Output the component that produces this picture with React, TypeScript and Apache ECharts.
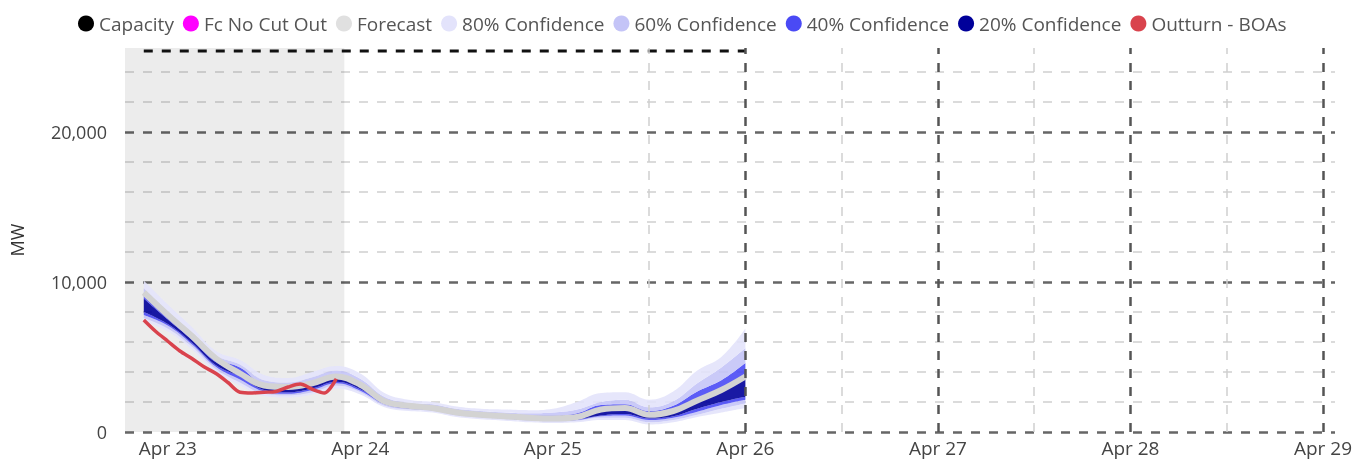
import React, { useEffect, useRef } from 'react';
import * as echarts from 'echarts';

// Time in hours from Apr 23 00:00
const hours = [-3, 0, 3, 6, 9, 12, 15, 18, 21, 24, 27, 30, 33, 36, 39, 42, 45, 48, 51, 54, 57, 60, 63, 66, 69, 72];
const forecast = [9300, 7800, 6400, 4900, 3900, 3100, 3000, 3250, 3700, 3150, 2050, 1750, 1600, 1300, 1150, 1050, 950, 900, 1000, 1500, 1600, 1150, 1400, 2100, 2800, 3700];
const lo80 = [7400, 6700, 5500, 4000, 3100, 2400, 2300, 2500, 2900, 2500, 1650, 1400, 1300, 1000, 850, 750, 650, 600, 650, 800, 800, 500, 650, 1000, 1300, 1600];
const lo60 = [7600, 6900, 5700, 4200, 3300, 2550, 2450, 2650, 3100, 2650, 1750, 1500, 1400, 1100, 950, 850, 750, 700, 750, 950, 950, 650, 800, 1150, 1550, 1900];
const lo40 = [7800, 7100, 5850, 4350, 3500, 2700, 2550, 2800, 3250, 2750, 1850, 1550, 1450, 1150, 1000, 900, 800, 750, 800, 1050, 1100, 800, 950, 1350, 1800, 2150];
const lo20 = [8000, 7200, 5950, 4450, 3700, 2800, 2650, 2900, 3350, 2850, 1900, 1600, 1500, 1200, 1050, 950, 850, 800, 850, 1100, 1200, 900, 1050, 1550, 2000, 2350];
const hi20 = [8900, 7500, 6150, 4650, 4100, 3000, 2900, 3100, 3600, 3050, 2050, 1750, 1650, 1350, 1200, 1100, 1000, 950, 1050, 1450, 1550, 1100, 1350, 2100, 2750, 3500];
const hi40 = [9200, 7700, 6400, 4900, 4300, 3200, 3100, 3350, 3850, 3300, 2200, 1850, 1750, 1450, 1300, 1200, 1100, 1100, 1250, 1800, 1850, 1400, 1750, 2700, 3450, 4600];
const hi60 = [9600, 8000, 6650, 5100, 4500, 3450, 3300, 3650, 4100, 3550, 2350, 1950, 1850, 1550, 1400, 1300, 1250, 1300, 1500, 2000, 2150, 1650, 2050, 3250, 4300, 5600];
const hi80 = [10100, 8500, 7000, 5400, 4800, 3800, 3600, 4000, 4400, 3900, 2600, 2150, 2000, 1700, 1550, 1500, 1450, 1550, 2000, 2600, 2650, 2150, 2700, 4100, 5000, 6900];

// Outturn - BOAs
const outHours = [-3, -1.5, 0, 1.5, 3, 4.5, 6, 7.5, 9, 10.5, 12, 13.5, 15, 16.5, 18, 19.5, 21];
const outturn = [7470, 6700, 6050, 5400, 4900, 4350, 3900, 3300, 2650, 2600, 2650, 2700, 3000, 3200, 2850, 2600, 3550];

// Capacity
const capHours = [-3, 72];
const capacity = [25400, 25400];

// Axis / grid helpers (hours from Apr 23 00:00)
const majorVHours = [72, 96, 120, 144];
const minorVHours = [60, 84, 108, 132];
const shadeEndHour = 22;
const xMinHour = -5.34;
const xMaxHour = 145.5;
const monthLabel = 'Apr';

const legendNames = ['Capacity', 'Fc No Cut Out', 'Forecast', '80% Confidence', '60% Confidence', '40% Confidence', '20% Confidence', 'Outturn - BOAs'];

const C80 = '#e3e3fb';
const C60 = '#c4c4f7';
const C40 = '#4a4af5';
const C20 = '#00009a';

const T0 = new Date(2024, 3, 23, 0, 0, 0).getTime();
const HOUR = 3600000;

export default function App() {
  const ref = useRef<HTMLDivElement>(null);
  useEffect(() => {
    const chart = echarts.init(ref.current!, null, { renderer: 'svg' });
    const t = (h: number) => T0 + h * HOUR;
    const pts = (hs: number[], vals: number[]) => hs.map((h, i) => [t(h), vals[i]]);
    const diff = (a: number[], b: number[]) => a.map((v, i) => v - b[i]);
    const layers = [
      { name: '80% Confidence', vals: diff(lo60, lo80), color: C80 },
      { name: '60% Confidence', vals: diff(lo40, lo60), color: C60 },
      { name: '40% Confidence', vals: diff(lo20, lo40), color: C40 },
      { name: '20% Confidence', vals: diff(hi20, lo20), color: C20 },
      { name: '40% Confidence', vals: diff(hi40, hi20), color: C40 },
      { name: '60% Confidence', vals: diff(hi60, hi40), color: C60 },
      { name: '80% Confidence', vals: diff(hi80, hi60), color: C80 },
    ];
    const dash = [9, 9];
    const font = '"Open Sans", sans-serif';

    const series: any[] = [
      {
        name: 'base',
        type: 'line',
        stack: 'fan',
        data: pts(hours, lo80),
        smooth: 0.4,
        showSymbol: false,
        lineStyle: { opacity: 0, width: 0 },
        silent: true,
        markArea: {
          silent: true,
          itemStyle: { color: 'rgba(0,0,0,0.075)' },
          data: [[{ xAxis: t(xMinHour) }, { xAxis: t(shadeEndHour) }]],
        },
        markLine: {
          silent: true,
          symbol: ['none', 'none'],
          label: { show: false },
          data: [
            ...majorVHours.map((h) => ({ xAxis: t(h), lineStyle: { color: '#555', width: 2.5, type: dash } })),
            ...minorVHours.map((h) => ({ xAxis: t(h), lineStyle: { color: '#cfcfcf', width: 1.5, type: dash } })),
          ],
        },
      },
      ...layers.map((l) => ({
        name: l.name,
        type: 'line',
        stack: 'fan',
        data: pts(hours, l.vals),
        smooth: 0.4,
        showSymbol: false,
        lineStyle: { width: 0, opacity: 0 },
        itemStyle: { color: l.color },
        areaStyle: { color: l.color, opacity: 0.9 },
        silent: true,
      })),
      {
        name: 'Fc No Cut Out',
        type: 'line',
        data: [],
        itemStyle: { color: '#ff00ff' },
        lineStyle: { color: '#ff00ff' },
      },
      {
        name: 'Forecast',
        type: 'line',
        data: pts(hours, forecast),
        smooth: 0.4,
        showSymbol: false,
        itemStyle: { color: '#e0e0e0' },
        lineStyle: { color: '#d3d3d3', width: 6 },
      },
      {
        name: 'Outturn - BOAs',
        type: 'line',
        data: pts(outHours, outturn),
        smooth: 0.3,
        showSymbol: false,
        itemStyle: { color: '#d9434d' },
        lineStyle: { color: '#d9434d', width: 3.5 },
      },
      {
        name: 'Capacity',
        type: 'line',
        data: pts(capHours, capacity),
        showSymbol: false,
        itemStyle: { color: '#000' },
        lineStyle: { color: '#111', width: 3, type: dash },
      },
    ];

    chart.setOption({
      animation: false,
      textStyle: { fontFamily: font },
      legend: {
        data: legendNames.map((n) => ({ name: n, icon: 'circle' })),
        top: 9,
        left: 73,
        itemWidth: 16,
        itemHeight: 16,
        itemGap: 9,
        textStyle: { fontSize: 19, color: '#555', fontFamily: font },
      },
      grid: { left: 122, right: 33, top: 48, bottom: 30, containLabel: false },
      xAxis: {
        type: 'time',
        min: t(xMinHour),
        max: t(xMaxHour),
        minInterval: 24 * HOUR,
        maxInterval: 24 * HOUR,
        axisLine: { show: false },
        axisTick: { show: false },
        splitLine: { show: false },
        axisLabel: {
          formatter: (v: number) => {
            const d = new Date(v);
            return d.getHours() === 0 && d.getMinutes() === 0 ? monthLabel + ' ' + d.getDate() : '';
          },
          hideOverlap: false,
          fontSize: 19,
          color: '#444',
          fontFamily: font,
          margin: 6,
        },
      },
      yAxis: [
        {
          type: 'value',
          min: 0,
          max: 25600,
          interval: 10000,
          name: 'MW',
          nameLocation: 'middle',
          nameGap: 99,
          nameTextStyle: { fontSize: 18, color: '#333', fontFamily: font },
          axisLine: { show: false },
          axisTick: { show: false },
          axisLabel: {
            formatter: (v: number) => (v % 10000 === 0 ? v.toLocaleString('en-US') : ''),
            fontSize: 18,
            color: '#444',
            fontFamily: font,
            margin: 18,
          },
          splitLine: { show: true, showMaxLine: false, lineStyle: { color: '#666', width: 2.5, type: dash } },
        },
        {
          type: 'value',
          min: 0,
          max: 25600,
          interval: 2000,
          axisLine: { show: false },
          axisTick: { show: false },
          axisLabel: { show: false },
          splitLine: {
            show: true,
            showMaxLine: false,
            lineStyle: { color: ['rgba(0,0,0,0)', '#d0d0d0', '#d0d0d0', '#d0d0d0', '#d0d0d0'], width: 1.5, type: dash },
          },
        },
      ],
      series,
    });
    return () => chart.dispose();
  }, []);
  return <div ref={ref} style={{ position: 'fixed', left: 0, top: 0, width: 1368, height: 462 }} />;
}
